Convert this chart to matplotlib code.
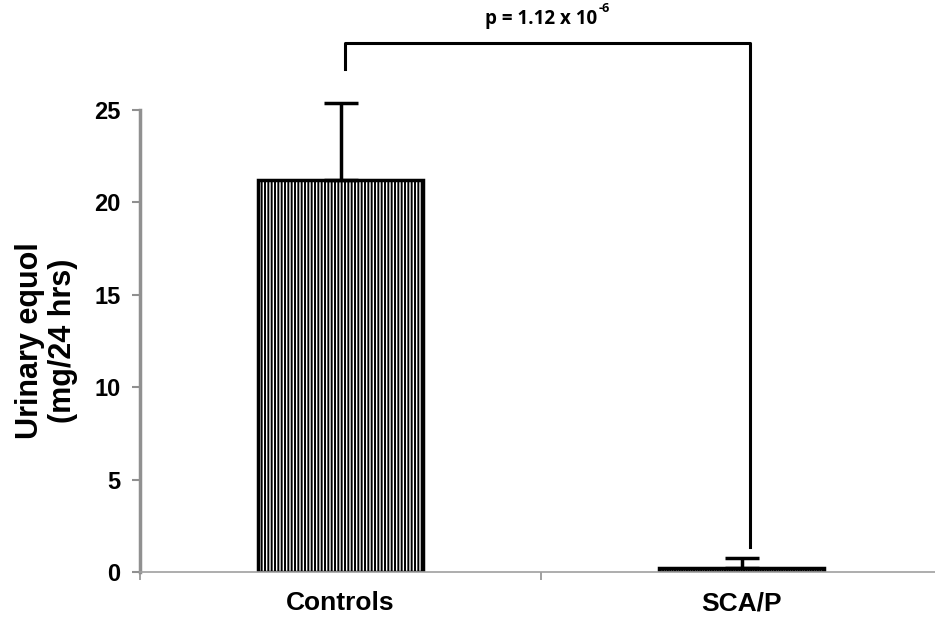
import matplotlib.pyplot as plt
import numpy as np

# --- data ---
groups = ["Controls", "SCA/P"]
means = [21.2, 0.2]
errors = [4.2, 0.55]
p_main = "p = 1.12 x 10"
p_exp = "-6"
y_ticks = [0, 5, 10, 15, 20, 25]

plt.rcParams['font.family'] = ['Liberation Sans', 'DejaVu Sans']
plt.rcParams['hatch.linewidth'] = 1.4

fig = plt.figure(figsize=(9.35, 6.19), dpi=100)
ax = fig.add_axes([140/935, 1 - 572/619, 802/935, 462/619])

x = np.arange(len(groups))
hatches = ['|||||', '|||||||']
bars = ax.bar(x, means, width=0.41, color='white', edgecolor='black',
              linewidth=2.5, zorder=2)
for b, h in zip(bars, hatches):
    b.set_hatch(h)
eb = ax.errorbar(x, means, yerr=[[0, 0], errors], fmt='none', ecolor='black',
                 elinewidth=2.5, capsize=12, capthick=2.5, zorder=3)
for art in eb.lines[1] + eb.lines[2]:
    art.set_clip_on(False)

ax.set_xlim(-0.5, 1.5)
ax.set_ylim(0, 25)
ax.set_yticks(y_ticks)
ax.set_yticklabels([str(t) for t in y_ticks], fontsize=17, fontweight='bold')
ax.set_xticks([-0.5, 0.5, 1.5])
ax.set_xticklabels([])
ax.set_xticks(x, minor=True)
ax.set_xticklabels(groups, minor=True, fontsize=19, fontweight='bold')
ax.tick_params(axis='x', which='minor', length=0, pad=14)
ax.tick_params(axis='x', which='major', length=6, color='#909090', width=1.2)
ax.tick_params(axis='y', length=6, color='#909090', width=1.5, pad=8)

for s in ['top', 'right']:
    ax.spines[s].set_visible(False)
ax.spines['left'].set_color('#909090')
ax.spines['left'].set_linewidth(2.5)
ax.spines['bottom'].set_color('#a0a0a0')
ax.spines['bottom'].set_linewidth(1.2)

ax.set_ylabel("Urinary equol\n(mg/24 hrs)", fontsize=22, fontweight='bold',
              labelpad=12, linespacing=1.1)

# significance bracket
y_top = 28.6
ax.plot([0.01, 0.01, 1.02, 1.02], [27.2, y_top, y_top, 1.35], color='black',
        linewidth=2.2, clip_on=False, zorder=4)
t = ax.text(0.5, y_top + 0.8, p_main, ha='center', va='bottom', fontsize=13.5,
            fontweight='bold', family=['Open Sans', 'DejaVu Sans'])
ax.annotate(p_exp, xy=(1, 1), xycoords=t, xytext=(1, 0),
            textcoords='offset points', ha='left', va='center', fontsize=9,
            fontweight='bold', family=['Open Sans', 'DejaVu Sans'])

fig.savefig("out.png", dpi=100)
